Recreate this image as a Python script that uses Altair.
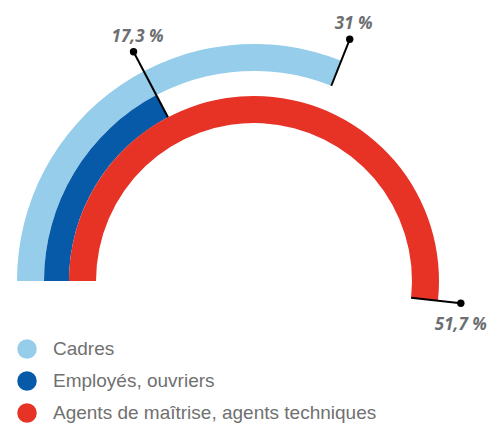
import math
import altair as alt
import pandas as pd

# ---- data ----
categories = ["Cadres", "Employés, ouvriers", "Agents de maîtrise, agents techniques"]
values = [31.0, 17.3, 51.7]
labels = ["31 %", "17,3 %", "51,7 %"]

# ---- style ----
colors = ["#96cdeb", "#075aa8", "#e73226"]
ring_inner = [210, 185, 158]
ring_outer = [237, 210, 185]
leader_end = [260, 259, 208]

W, H = 481, 417
CX, CY = 246, 273

df = pd.DataFrame({
    "cat": categories,
    "value": values,
    "label": labels,
    "start": [0, 0, 0],
    "r_in": ring_inner,
    "r_out": ring_outer,
    "r_lead": leader_end,
})

base = alt.Chart(df).transform_calculate(
    ang="datum.value * 2 * PI / 100 - PI / 2"
).transform_calculate(
    x1=f"{CX} + datum.r_in * sin(datum.ang)",
    y1=f"{CY} - datum.r_in * cos(datum.ang)",
    x2=f"{CX} + datum.r_lead * sin(datum.ang)",
    y2=f"{CY} - datum.r_lead * cos(datum.ang)",
)

arcs = alt.Chart(df).mark_arc().encode(
    theta=alt.Theta("start:Q", scale=alt.Scale(domain=[0, 100], range=[-math.pi / 2, 3 * math.pi / 2]), stack=None),
    theta2="value:Q",
    radius=alt.Radius("r_out:Q", scale=None),
    radius2="r_in:Q",
    x=alt.value(CX),
    y=alt.value(CY),
    color=alt.Color(
        "cat:N",
        scale=alt.Scale(domain=categories, range=colors),
        legend=alt.Legend(
            title=None, orient="none", legendX=9, legendY=331,
            symbolType="circle", symbolSize=380, symbolStrokeWidth=0, symbolOpacity=1,
            labelFont="Liberation Sans", labelFontSize=19, labelColor="#707070",
            labelOffset=16, rowPadding=12, padding=0, labelLimit=600,
        ),
    ),
)

rules = base.mark_rule(color="black", strokeWidth=2).encode(
    x=alt.X("x1:Q", scale=None, axis=None),
    y=alt.Y("y1:Q", scale=None, axis=None),
    x2="x2:Q",
    y2="y2:Q",
)

dots = base.mark_circle(color="black", size=55, opacity=1).encode(
    x=alt.X("x2:Q", scale=None, axis=None),
    y=alt.Y("y2:Q", scale=None, axis=None),
)

txt_style = dict(font="Open Sans", fontStyle="italic", fontWeight="bold", fontSize=17,
                 color="#6d6e71", align="center", baseline="alphabetic")

texts_top = base.transform_filter("datum.value < 50").mark_text(dx=4, dy=-10, **txt_style).encode(
    x=alt.X("x2:Q", scale=None, axis=None),
    y=alt.Y("y2:Q", scale=None, axis=None),
    text="label:N",
)
texts_bottom = base.transform_filter("datum.value >= 50").mark_text(dx=0, dy=27, **txt_style).encode(
    x=alt.X("x2:Q", scale=None, axis=None),
    y=alt.Y("y2:Q", scale=None, axis=None),
    text="label:N",
)

chart = alt.layer(arcs, rules, dots, texts_top, texts_bottom).properties(
    width=W, height=H, autosize=alt.AutoSizeParams(type="none"), padding=0
).configure_view(stroke=None)

chart.save("out.html", embed_options={"renderer": "svg", "actions": False})
